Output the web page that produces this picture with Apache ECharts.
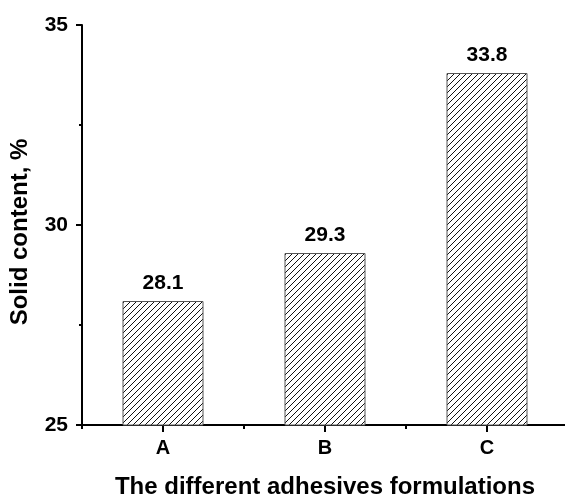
<!DOCTYPE html>
<html>
<head>
<meta charset="utf-8">
<script src="https://cdn.jsdelivr.net/npm/echarts@6/dist/echarts.min.js"></script>
<style>
html,body{margin:0;padding:0;background:#fff;}
#chart{width:565px;height:498px;}
</style>
</head>
<body>
<div id="chart"></div>
<script>
var categories = ['A', 'B', 'C'];
var solidContent = [28.1, 29.3, 33.8];
var yMin = 25, yMax = 35, yInterval = 5;
var xTitle = 'The different adhesives formulations';
var yTitle = 'Solid content, %';

function makeHatch() {
  var s = 6;
  var c = document.createElement('canvas');
  c.width = s; c.height = s;
  var ctx = c.getContext('2d');
  ctx.fillStyle = '#fff';
  ctx.fillRect(0, 0, s, s);
  ctx.strokeStyle = '#111';
  ctx.lineWidth = 1;
  ctx.beginPath();
  ctx.moveTo(-1, s + 1); ctx.lineTo(s + 1, -1);
  ctx.moveTo(-1, 1); ctx.lineTo(1, -1);
  ctx.moveTo(s - 1, s + 1); ctx.lineTo(s + 1, s - 1);
  ctx.stroke();
  return c;
}

var font = '"Liberation Sans", Arial, sans-serif';
var chart = echarts.init(document.getElementById('chart'), null, {renderer: 'canvas'});
chart.setOption({
  backgroundColor: '#fff',
  animation: false,
  grid: {left: 82, top: 25, width: 486, height: 400, containLabel: false, outerBoundsMode: 'none'},
  xAxis: [{
    type: 'category',
    data: categories,
    position: 'bottom',
    name: xTitle,
    nameLocation: 'middle',
    nameGap: 50,
    nameTextStyle: {fontFamily: font, fontWeight: 'bold', fontSize: 24, color: '#000'},
    axisLine: {show: true, lineStyle: {color: '#000', width: 2}},
    axisTick: {show: true, alignWithLabel: true, length: 7, lineStyle: {color: '#000', width: 2}},
    axisLabel: {margin: 13, fontFamily: font, fontWeight: 'bold', fontSize: 20, color: '#000'},
    splitLine: {show: false}
  }, {
    type: 'category',
    data: categories,
    position: 'bottom',
    axisLine: {show: false},
    axisTick: {show: true, alignWithLabel: false, length: 4, lineStyle: {color: '#000', width: 2}},
    axisLabel: {show: false},
    splitLine: {show: false}
  }],
  yAxis: {
    type: 'value',
    min: yMin, max: yMax, interval: yInterval,
    name: yTitle,
    nameLocation: 'middle',
    nameGap: 50,
    nameTextStyle: {fontFamily: font, fontWeight: 'bold', fontSize: 24, color: '#000', padding: [0, 14, 0, 0]},
    axisLine: {show: true, lineStyle: {color: '#000', width: 2}},
    axisTick: {show: true, length: 6, lineStyle: {color: '#000', width: 2}},
    minorTick: {show: true, splitNumber: 2, length: 3, lineStyle: {color: '#000', width: 2}},
    axisLabel: {margin: 14, fontFamily: font, fontWeight: 'bold', fontSize: 21, color: '#000'},
    splitLine: {show: false},
    minorSplitLine: {show: false}
  },
  series: [{
    type: 'bar',
    data: solidContent,
    xAxisIndex: 0,
    barWidth: '50%',
    itemStyle: {
      color: {image: makeHatch(), repeat: 'repeat'},
      borderColor: '#555',
      borderWidth: 1
    },
    label: {
      show: true,
      position: 'top',
      distance: 7,
      fontFamily: font,
      fontWeight: 'bold',
      fontSize: 21,
      color: '#000'
    }
  }]
});
</script>
</body>
</html>
